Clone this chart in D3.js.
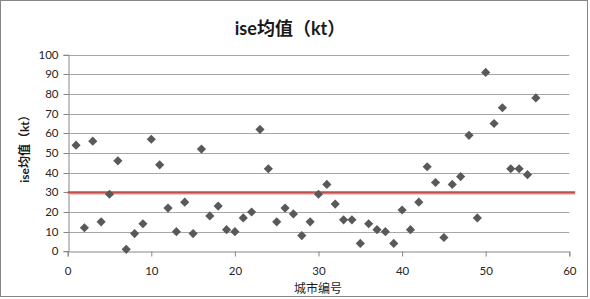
<!DOCTYPE html>
<html>
<head>
<meta charset="utf-8">
<script src="https://cdn.jsdelivr.net/npm/d3@7"></script>
<style>
  body { margin: 0; background: #fff; }
  svg { display: block; }
</style>
</head>
<body>
<svg class="chart" width="590" height="299"></svg>
<script>
// city numbers and their ise means (kt)
var cities = d3.range(1, 57);
var iseValues = [54, 12, 56, 15, 29, 46, 1, 9, 14, 57,
                 44, 22, 10, 25, 9, 52, 18, 23, 11, 10,
                 17, 20, 62, 42, 15, 22, 19, 8, 15, 29,
                 34, 24, 16, 16, 4, 14, 11, 10, 4, 21,
                 11, 25, 43, 35, 7, 34, 38, 59, 17, 91,
                 65, 73, 42, 42, 39, 78];
var threshold = 30;
var xTicks = [0, 10, 20, 30, 40, 50, 60];
var yTicks = [0, 10, 20, 30, 40, 50, 60, 70, 80, 90, 100];

var font = "Lato, 'Noto Sans CJK SC', sans-serif";
var svg = d3.select(".chart");

// outer frame
svg.append("rect")
    .attr("x", 0.5)
    .attr("y", 0.5)
    .attr("width", 587)
    .attr("height", 296)
    .attr("fill", "#fff")
    .attr("stroke", "#868686")
    .attr("stroke-width", 1);

var x = d3.scaleLinear().domain([0, 60]).range([67.7, 569.3]);
var y = d3.scaleLinear().domain([0, 100]).range([251.3, 54.7]);

// gridlines
svg.append("g")
    .selectAll("line")
    .data(yTicks.slice(1))
    .join("line")
    .attr("x1", x(0))
    .attr("x2", x(60))
    .attr("y1", function (d) { return Math.round(y(d)) + 0.5; })
    .attr("y2", function (d) { return Math.round(y(d)) + 0.5; })
    .attr("stroke", "#a6a6a6")
    .attr("stroke-width", 1);

// y axis
var yAxis = svg.append("g")
    .attr("transform", "translate(" + (Math.round(x(0)) + 0.5) + ",0)")
    .call(d3.axisLeft(y).tickValues(yTicks).tickSize(5).tickPadding(5));
yAxis.select(".domain").attr("stroke", "#868686");
yAxis.selectAll(".tick").attr("transform", function (d) {
    return "translate(0," + (Math.round(y(d)) + 0.5) + ")";
});
yAxis.selectAll(".tick line").attr("stroke", "#868686").attr("x2", -5);
yAxis.selectAll("text")
    .attr("font-family", font)
    .attr("font-size", "11.5px")
    .attr("fill", "#262626");

// x axis
var xAxis = svg.append("g")
    .attr("transform", "translate(0," + (Math.round(y(0)) + 0.5) + ")")
    .call(d3.axisBottom(x).tickValues(xTicks).tickSize(5).tickPadding(10));
xAxis.select(".domain").attr("stroke", "#868686");
xAxis.selectAll(".tick line").attr("stroke", "#868686");
xAxis.selectAll("text")
    .attr("font-family", font)
    .attr("font-size", "11.5px")
    .attr("fill", "#262626");

// threshold line
svg.append("line")
    .attr("x1", x(0))
    .attr("x2", x(60.7))
    .attr("y1", y(threshold) + 1.5)
    .attr("y2", y(threshold) + 1.5)
    .attr("stroke", "#e4b9b8")
    .attr("stroke-width", 2);
svg.append("line")
    .attr("x1", x(0))
    .attr("x2", x(60.7))
    .attr("y1", y(threshold))
    .attr("y2", y(threshold))
    .attr("stroke", "#c0504d")
    .attr("stroke-width", 2.2);

// points
var diamond = d3.symbol().type(d3.symbolSquare).size(42);
svg.append("g")
    .selectAll("path")
    .data(cities)
    .join("path")
    .attr("d", diamond)
    .attr("transform", function (d, i) {
        return "translate(" + x(d) + "," + y(iseValues[i]) + ") rotate(45)";
    })
    .attr("fill", "#595959");

// titles
svg.append("text")
    .attr("x", 290)
    .attr("y", 35)
    .attr("text-anchor", "middle")
    .attr("font-family", font)
    .attr("font-weight", "bold")
    .attr("font-size", "18px")
    .attr("fill", "#1a1a1a")
    .text("ise均值（kt）");

svg.append("text")
    .attr("transform", "translate(29,146) rotate(-90)")
    .attr("text-anchor", "middle")
    .attr("font-family", font)
    .attr("font-weight", "bold")
    .attr("font-size", "12px")
    .attr("fill", "#1a1a1a")
    .text("ise均值（kt）");

svg.append("text")
    .attr("x", 318)
    .attr("y", 293)
    .attr("text-anchor", "middle")
    .attr("font-family", font)
    .attr("font-size", "12px")
    .attr("fill", "#1a1a1a")
    .text("城市编号");
</script>
</body>
</html>
